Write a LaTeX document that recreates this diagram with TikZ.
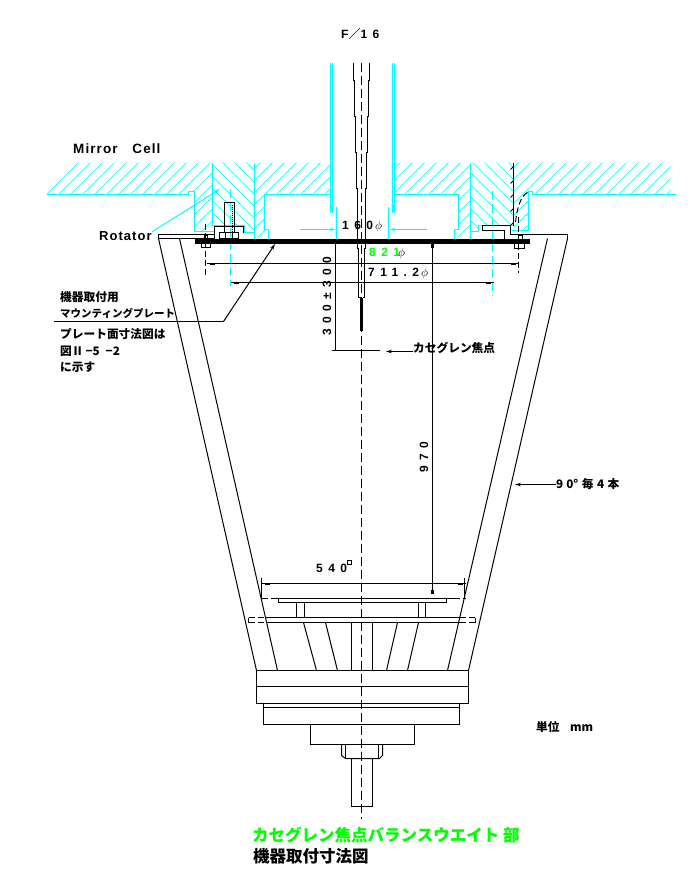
\documentclass[tikz,border=0pt]{standalone}
\usepackage{fontspec}
\setmainfont{Liberation Sans}
\newfontfamily\jpfont{Noto Sans CJK JP}
\newfontfamily\numfont[LetterSpace=45]{Liberation Sans}
\newfontfamily\wordfont[LetterSpace=8]{Liberation Sans}
\usetikzlibrary{arrows.meta}
\definecolor{cgreen}{rgb}{0, 1, 0}
\definecolor{ccyan}{rgb}{0, 1, 1}
\tikzset{
  part/.style={black, line width=1pt},
  wall/.style={ccyan, line width=1pt},
  hatching/.style={ccyan, line width=0.6pt},
  axisline/.style={black, line width=1pt, dash pattern=on 9pt off 4pt},
  boltaxis/.style={ccyan, line width=1pt, dash pattern=on 9pt off 4pt},
  hidden/.style={black, line width=1pt, dash pattern=on 6pt off 3pt},
  dimline/.style={black, line width=1pt},
  tip/.style={-{Stealth[length=6pt, width=3.5pt]}},
  jplabel/.style={inner sep=0pt, anchor=west, font=\jpfont\bfseries\fontsize{11.7}{11.7}\selectfont},
  numlabel/.style={inner sep=0pt, font=\numfont\bfseries\fontsize{12}{12}\selectfont},
  wordlabel/.style={inner sep=0pt, anchor=west, font=\wordfont\bfseries\fontsize{13}{13}\selectfont},
  titlelabel/.style={inner sep=0pt, anchor=west, font=\jpfont\bfseries\fontsize{16.5}{16.5}\selectfont}
}

\begin{document}
\begin{tikzpicture}[x=1pt, y=-1pt]
  \useasboundingbox (0, 0) rectangle (693, 892);
  \fill [white] (0, 0) rectangle (693, 892);

  \begin{scope}[shift={(0.5, 0.5)}]
  % hatching of the mirror cell
  \begin{scope}
    \clip (46, 162) -- (212, 162) -- (212, 231) -- (194, 231) -- (194, 191) -- (188, 191) -- (188, 194) -- (46, 194) -- cycle;
    \foreach \x in {0, 12, ..., 240} \draw [hatching] (\x, 240) -- ++(90, -90);
  \end{scope}
  \begin{scope}
    \clip (212, 162) -- (254, 162) -- (254, 232) -- (244, 232) -- (244, 225) -- (212, 225) -- cycle;
    \foreach \x in {150, 162, ..., 260} \draw [hatching] (\x, 150) -- ++(90, 90);
  \end{scope}
  \begin{scope}
    \clip (254, 162) -- (330, 162) -- (330, 194) -- (264, 194) -- (264, 229) -- (268, 229) -- (268, 237) -- (254, 237) -- cycle;
    \foreach \x in {170, 182, ..., 340} \draw [hatching] (\x, 240) -- ++(90, -90);
  \end{scope}
  \begin{scope}
    \clip (394, 162) -- (470, 162) -- (470, 237) -- (454, 237) -- (454, 229) -- (458, 229) -- (458, 194) -- (394, 194) -- cycle;
    \foreach \x in {310, 322, ..., 480} \draw [hatching] (\x, 240) -- ++(90, -90);
  \end{scope}
  \begin{scope}
    \clip (470, 162) -- (513, 162) -- (513, 225) -- (478, 225) -- (478, 231) -- (470, 231) -- cycle;
    \foreach \x in {400, 412, ..., 520} \draw [hatching] (\x, 150) -- ++(90, 90);
  \end{scope}
  \begin{scope}
    \clip (513, 162) -- (670, 162) -- (670, 194) -- (532, 194) -- (532, 191) -- (528, 191) -- (528, 230) -- (513, 230) -- cycle;
    \foreach \x in {440, 452, ..., 680} \draw [hatching] (\x, 240) -- ++(90, -90);
  \end{scope}

  % mirror cell walls
  \draw [wall] (46, 194) -- (188, 194) -- (188, 191) -- (194, 191) -- (194, 231) -- (214, 231);
  \draw [wall] (212, 162) -- (212, 225) -- (244, 225) -- (244, 232) -- (254, 232);
  \draw [wall] (254, 162) -- (254, 238);
  \draw [wall] (330, 194) -- (264, 194) -- (264, 229) -- (268, 229) -- (268, 238);
  \draw [wall] (330, 62) -- (330, 212);
  \draw [wall] (332, 62) -- (332, 212);
  \draw [wall] (392, 62) -- (392, 212);
  \draw [wall] (394, 62) -- (394, 212);
  \draw [wall] (394, 194) -- (458, 194) -- (458, 229) -- (454, 229) -- (454, 238);
  \draw [wall] (470, 162) -- (470, 238);
  \draw [wall] (470, 231) -- (478, 231) -- (478, 225) -- (512, 225);
  \draw [wall] (675, 194) -- (532, 194) -- (532, 191) -- (528, 191) -- (528, 230) -- (511, 230);
  \draw [wall] (336, 206) -- (336, 238);
  \draw [wall] (388, 206) -- (388, 238);
  \draw [wall, tip] (299, 229) -- (335, 229);
  \draw [wall, tip] (426, 229) -- (389, 229);
  \draw [wall, tip] (331, 204) -- (331, 212);
  \draw [wall, tip] (393, 204) -- (393, 212);
  \draw [boltaxis] (230, 188) -- (230, 285);
  \draw [boltaxis] (492, 190) -- (492, 295);

  % rotator flange, bolts and plate
  \draw [part] (158, 234) rectangle (214, 238);
  \draw [part] (214, 234) -- (214, 226) -- (243, 226) -- (243, 232);
  \draw [part] (224, 202) rectangle (234, 232);
  \draw [part, densely dotted] (232, 204) -- (232, 232);
  \draw [part] (219, 232) rectangle (238, 238);
  \draw [part] (225, 232) -- (225, 238) (232, 232) -- (232, 238);
  \draw [part] (567, 238) -- (567, 234) -- (510, 234) -- (510, 225) -- (482, 225) -- (482, 230) -- (504, 230) -- (504, 238);
  \draw [part] (513, 162) -- (513, 225);
  \foreach \y in {166, 180, ..., 222} \draw [part] (513, \y) -- ++(-3, 3);
  \draw [hidden] (527, 192) .. controls (520, 195) and (516, 210) .. (515, 222);
  \fill [black] (194, 238) rectangle (529, 243);
  \draw [part] (204, 235) rectangle (207, 243);
  \draw [part] (201, 243) rectangle (210, 247);
  \draw [part] (518, 235) rectangle (522, 243);
  \draw [part] (514, 243) rectangle (524, 248);
  \draw [hidden] (205, 223) -- (205, 276);
  \draw [hidden] (518, 216) -- (518, 272);

  % tube and beam
  \draw [part] (353, 62) -- (353, 80) -- (354, 80) -- (354, 116) -- (355, 116) -- (355, 152) -- (356, 152) -- (356, 188) -- (357, 188) -- (357, 248) -- (358, 248) -- (358, 297) -- (360, 297);
  \draw [part] (369, 62) -- (369, 80) -- (368, 80) -- (368, 116) -- (367, 116) -- (367, 152) -- (366, 152) -- (366, 188) -- (365, 188) -- (365, 248) -- (364, 248) -- (364, 297) -- (362, 297);
  \draw [black, line width=2.5pt] (361, 297) -- (361, 330);
  \draw [axisline] (361, 62) -- (361, 818);

  % cone
  \draw [part] (158, 238) -- (256, 670);
  \draw [part] (179, 238) -- (277, 670);
  \draw [part] (567, 238) -- (468, 670);
  \draw [part] (547, 238) -- (447, 670);

  % lower assembly
  \draw [part] (265, 617) -- (459, 617);
  \draw [part] (265, 622) -- (459, 622);
  \draw [hidden] (248, 622) -- (265, 622) (248, 617) -- (265, 617) (248, 617) -- (248, 622);
  \draw [hidden] (459, 622) -- (475, 622) (459, 617) -- (475, 617) (475, 617) -- (475, 622);
  \draw [part] (270, 598) -- (453, 598);
  \draw [hidden] (261, 598) -- (270, 598) (453, 598) -- (465, 598);
  \draw [part] (278, 598) rectangle (446, 602);
  \draw [part] (296, 602) rectangle (304, 617);
  \draw [part] (418, 602) rectangle (425, 617);
  \draw [part] (303, 622) -- (316, 670);
  \draw [part] (325, 622) -- (337, 670);
  \draw [part] (351, 621) -- (351, 670);
  \draw [part] (372, 621) -- (372, 670);
  \draw [part] (397, 622) -- (386, 670);
  \draw [part] (418, 622) -- (407, 670);
  \draw [part] (256, 670) rectangle (468, 703);
  \draw [part] (256, 686) -- (468, 686);
  \draw [part] (263, 703) rectangle (459, 724);
  \draw [part] (263, 707) -- (459, 707);
  \draw [part] (310, 724) rectangle (414, 744);
  \draw [part] (341, 744) -- (341, 755) -- (345, 758) -- (379, 758) -- (382, 755) -- (382, 744);
  \draw [part] (345, 744) -- (345, 758) (378, 744) -- (378, 758);
  \draw [part] (351, 758) rectangle (372, 806);

  % dimension lines
  \draw [dimline] (206, 263) -- (518, 263);
  \draw [dimline] (230, 282) -- (493, 282);
  \draw [dimline] (335, 243) -- (335, 350);
  \draw [dimline] (331, 350) -- (379, 350);
  \draw [dimline] (432, 243) -- (432, 592);
  \draw [dimline] (261, 583) -- (465, 583);
  \draw [dimline] (261, 577) -- (261, 598);
  \draw [dimline] (464, 577) -- (464, 598);
  \foreach \x/\y in {209/262, 510/262, 233/281, 485/281, 264/582, 457/582} \fill [black] (\x, \y) rectangle ++(5, 2);
  \fill [black] (430.5, 589) rectangle ++(3, 4);
  \fill [black] (430.5, 243) rectangle ++(3, 4);
  \end{scope}

  % labels
  \node [numlabel, anchor=west] (fratio) at (341, 34) {F{\jpfont ／}16};
  \node [wordlabel, font=\wordfont\bfseries\fontsize{13.5}{13.5}\selectfont] (cell) at (73, 149) {Mirror\hspace{1.1em}Cell};
  \node [wordlabel] (rotator) at (99, 236) {Rotator};
  \node [numlabel, anchor=west] (bore) at (342, 226) {160$\,\phi$};
  \node [numlabel, anchor=west, text=cgreen] (bolt) at (369, 252) {821};
  \node [numlabel, anchor=west] (boltphi) at (398, 253) {$\phi$};
  \node [numlabel, anchor=west] (circle) at (368, 273) {711.2$\,\phi$};
  \node [numlabel, rotate=90] (back) at (327, 296) {300±300};
  \node [numlabel, rotate=90] (focal) at (424, 457) {970};
  \node [numlabel, anchor=west] (square) at (316, 568) {540};
  \node [draw, black, line width=0.7pt, minimum size=4pt, inner sep=0pt] (squaremark) at (349, 562.5) {};
  \node [jplabel] (mount) at (60, 297) {機器取付用};
  \node [jplabel, font=\jpfont\bfseries\fontsize{10.5}{10.5}\selectfont] (mountb) at (60, 313) {マウンティングプレート};
  \node [jplabel] (planea) at (60, 334) {プレート面寸法図は};
  \node [jplabel] (planeb) at (60, 351) {図Ⅱ\,−5\hspace{0.5em}−2};
  \node [jplabel] (planec) at (60, 367) {に示す};
  \node [jplabel] (focus) at (413, 348) {カセグレン焦点};
  \node [jplabel] (legs) at (556, 484) {9\hspace{0.25em}0°\hspace{0.3em}毎\hspace{0.3em}4\hspace{0.3em}本};
  \node [jplabel] (unit) at (536, 727) {単位\hspace{0.9em}mm};
  \node [titlelabel, text=cgreen] (title) at (252, 835) {カセグレン焦点バランスウエイト 部};
  \node [titlelabel] (subtitle) at (253, 856) {機器取付寸法図};

  % leaders
  \coordinate (plateend) at (275, 244);
  \coordinate (platebend) at (223.5, 321.5);
  \coordinate (cellend) at (220, 189);
  \coordinate (coneend) at (515, 484.5);
  \coordinate (focusend) at (386, 351.5);
  \draw [dimline, tip] (platebend) -- (plateend);
  \draw [dimline] (54, 321.5) -- (platebend);
  \draw [wall, tip] (rotator.east) ++(0, -4) -- (cellend);
  \draw [dimline, tip] (413, 351.5) -- (focusend);
  \draw [dimline, tip] (legs.west) ++(0, 0.5) -- (coneend);
\end{tikzpicture}
\end{document}
